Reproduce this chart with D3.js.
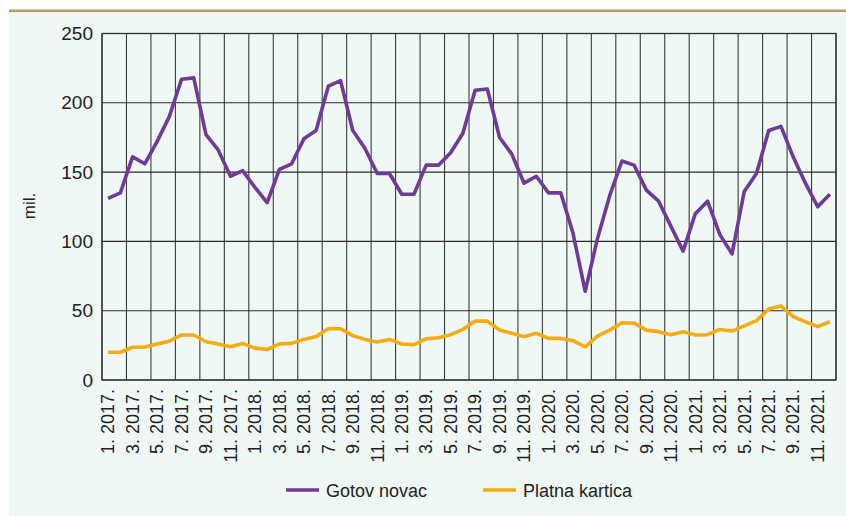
<!DOCTYPE html>
<html>
<head>
<meta charset="utf-8">
<script src="https://cdn.jsdelivr.net/npm/d3@7"></script>
<style>
  html, body { margin: 0; padding: 0; background: #ffffff; }
  svg { display: block; }
  text { font-family: "Liberation Sans Narrow", "Arial Narrow", "Liberation Sans", sans-serif; fill: #222; }
</style>
</head>
<body>
<svg id="chart" width="846" height="516"></svg>
<script>
// Monthly values, January 2017 – December 2021 (millions)
const years = [2017, 2018, 2019, 2020, 2021];
const months = years.flatMap(y => d3.range(1, 13).map(m => ({ y, m })));

const gotovNovac = [
  131, 135, 161, 156, 172, 190, 217, 218, 177, 166, 147, 151,
  139, 128, 152, 156, 174, 180, 212, 216, 180, 167, 149, 149,
  134, 134, 155, 155, 164, 178, 209, 210, 175, 163, 142, 147,
  135, 135, 106, 64, 102, 133, 158, 155, 137, 129, 111, 93,
  120, 129, 105, 91, 136, 149, 180, 183, 161, 142, 125, 134
];
const platnaKartica = [
  20, 20, 23.6, 23.8, 26, 28, 32.5, 32.5, 27.6, 26, 24, 26.4,
  23, 22, 26, 26.4, 29.3, 31.3, 37, 37, 32, 29.3, 27.4, 29.3,
  26, 25.5, 29.8, 30.5, 32.7, 36.5, 42.5, 42.5, 36, 33.7, 31.3, 33.7,
  30, 30, 28.4, 23.8, 31.7, 36, 41.3, 41, 36, 34.9, 32.7, 34.9,
  32.5, 32.7, 36.5, 35.3, 39, 42.8, 51.2, 53.4, 45.7, 42, 38.5, 42
];
const yTicks = [0, 50, 100, 150, 200, 250];
const seriesNames = ["Gotov novac", "Platna kartica"];
const seriesColors = ["#6f3a98", "#f5ac10"];

const svg = d3.select("#chart");

// Panel background and top rule
svg.append("rect").attr("x", 9).attr("y", 12).attr("width", 837).attr("height", 504).attr("fill", "#eff8f5");
svg.append("rect").attr("x", 9).attr("y", 9.5).attr("width", 837).attr("height", 2.5).attr("fill", "#b99b60");

const plot = { left: 102, right: 836, top: 33.5, bottom: 380 };

const x = d3.scaleBand()
  .domain(d3.range(months.length))
  .range([plot.left, plot.right])
  .paddingInner(0).paddingOuter(0);
const y = d3.scaleLinear().domain([0, 250]).range([plot.bottom, plot.top]);

const g = svg.append("g");

// Vertical grid every two months
const vLines = d3.range(0, months.length + 1, 2).map(i => i < months.length ? x(i) : plot.right);
g.selectAll("line.vgrid").data(vLines).join("line")
  .attr("class", "vgrid")
  .attr("x1", d => d).attr("x2", d => d)
  .attr("y1", plot.top).attr("y2", plot.bottom)
  .attr("stroke", "#3a3a3a").attr("stroke-width", 1.1);

// Horizontal grid
g.selectAll("line.hgrid").data(yTicks).join("line")
  .attr("class", "hgrid")
  .attr("x1", plot.left).attr("x2", plot.right)
  .attr("y1", d => y(d)).attr("y2", d => y(d))
  .attr("stroke", "#2a2a2a").attr("stroke-width", 1.1);

// Frame
g.append("rect")
  .attr("x", plot.left).attr("y", plot.top)
  .attr("width", plot.right - plot.left).attr("height", plot.bottom - plot.top)
  .attr("fill", "none").attr("stroke", "#333").attr("stroke-width", 1.3);

// Y axis labels
const yAxis = d3.axisLeft(y).tickValues(yTicks).tickSize(0).tickPadding(9);
svg.append("g").attr("transform", `translate(${plot.left},0)`).call(yAxis)
  .call(a => a.select(".domain").remove())
  .selectAll("text")
  .style("font-size", "19px")
  .attr("fill", "#222");

svg.append("text")
  .attr("transform", "translate(35,206) rotate(-90)")
  .attr("text-anchor", "middle")
  .style("font-size", "17px")
  .text("mil.");

// X axis labels (every second month)
const xAxis = d3.axisBottom(x)
  .tickValues(d3.range(0, months.length, 2))
  .tickFormat(i => `${months[i].m}. ${months[i].y}.`)
  .tickSize(0).tickPadding(0);
svg.append("g").attr("transform", `translate(0,${plot.bottom})`).call(xAxis)
  .call(a => a.select(".domain").remove())
  .selectAll("text")
  .attr("transform", "rotate(-90)")
  .attr("text-anchor", "end")
  .attr("x", -9).attr("y", 0).attr("dy", "0.35em")
  .style("font-size", "18px")
  .attr("fill", "#222");

// Lines
const line = d3.line()
  .x((d, i) => x(i) + x.bandwidth() / 2)
  .y(d => y(d));

[platnaKartica, gotovNovac].forEach((vals, k) => {
  const color = k === 0 ? seriesColors[1] : seriesColors[0];
  g.append("path")
    .datum(vals)
    .attr("fill", "none")
    .attr("stroke", color)
    .attr("stroke-width", 3.6)
    .attr("stroke-linejoin", "round")
    .attr("d", line);
});

// Legend
const legendItems = [
  { name: seriesNames[0], color: seriesColors[0], x: 286 },
  { name: seriesNames[1], color: seriesColors[1], x: 483 }
];
const lg = svg.append("g");
legendItems.forEach(it => {
  lg.append("line")
    .attr("x1", it.x).attr("x2", it.x + 33)
    .attr("y1", 490).attr("y2", 490)
    .attr("stroke", it.color).attr("stroke-width", 3.6);
  lg.append("text")
    .attr("x", it.x + 40).attr("y", 497)
    .style("font-size", "18px")
    .text(it.name);
});
</script>
</body>
</html>
